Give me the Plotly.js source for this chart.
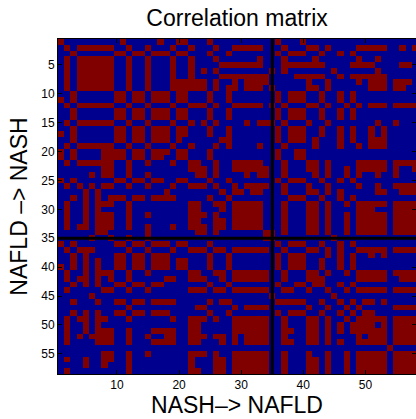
<!DOCTYPE html>
<html>
<head>
<meta charset="utf-8">
<script src="https://cdn.plot.ly/plotly-3.0.1.min.js"></script>
<style>html,body{margin:0;padding:0;background:#fff;}#chart{width:416px;height:419px;}</style>
</head>
<body>
<div id="chart"></div>
<script>
// Variable indices (rows and columns of the matrix)
const variables = [1,2,3,4,5,6,7,8,9,10,11,12,13,14,15,16,17,18,19,20,21,22,23,24,25,26,27,28,29,30,31,32,33,34,35,36,37,38,39,40,41,42,43,44,45,46,47,48,49,50,51,52,53,54,55,56,57,58];
const xTickVals = [10,20,30,40,50];
const yTickVals = [5,10,15,20,25,30,35,40,45,50,55];
const splitAt = 35;

// Upper triangle of the thresholded correlation matrix:
// for each row, the columns (>= row) drawn red (value 1); others are blue (0).
const redUpper = [
 [1,11,17,20,21,25,36,40],
 [2,4,5,6,7,8,9,12,15,19,22,26,29,30,31,32,33,37,41,42,44,49,50,51,52,53,56,58],
 [3,10,11,13,14,16,17,18,20,21,25,28,36,38,39,40,43,46,48],
 [4,5,6,7,8,9,12,15,19,22,26,33,37,42,49,52],
 [5,6,7,8,9,12,15,19,22,27,28,29,30,31,32,33,37,38,39,40,41,42,43,48,49,50,51,56,57],
 [6,7,8,9,12,15,19,22,24,26,35,37,45,52],
 [7,8,9,12,15,19,22,27,28,29,30,31,32,33,34,39,40,41,42,43,46,48,49,50,51,52,53],
 [8,9,12,15,19,20,21,22,23,24,26,29,31,32,33,34,41,44,49,51,52,53,55,56,57],
 [9,12,15,19,20,21,22,23,24,26,28,29,31,32,33,35,41,42,44,51,52,53,55,56],
 [10,11,13,14,16,17,18,20,21,25,28,36,38,39,40,43,46,48],
 [11,13,14,16,17,18,20,21,25,28,36,38,39,40,43,46,48],
 [12,15,19,22,23,24,26,29,30,31,32,33,35,37,41,42,44,47,49,51,52,53,55,56,57,58],
 [13,14,16,17,18,20,21,25,28,36,38,39,40,43,46,48],
 [14,16,17,18,20,21,25,28,36,38,39,40,43,46,48],
 [15,19,22,24,26,31,33,34,35,37,41,44,52,55],
 [16,17,18,20,21,25,28,36,38,39,40,43,46,48,51,53],
 [17,18,20,21,25,28,36,38,39,40,43,46,48,51,53],
 [18,20,27,28,36,38,39,40,42,46,48,51,52,53],
 [19,22,26,28,33,37,42,46,49,51,52,53],
 [20,21,25,36,39,40],
 [21,25,36,39,40],
 [22,23,26,29,30,31,32,33,37,41,42,44,49,50,51,52,53,55,56,57,58],
 [23,24,26,29,30,31,32,33,34,37,41,42,44,47,49,50,51,52,53,55,58],
 [24,26,31,33,34,37,42,44,47,49,52,55],
 [25,28,36,38,39,40,43,46,48],
 [26,29,31,32,33,34,37,41,44,49,52,55,56,57,58],
 [27,29,30,32,33,37,41,42,44,46,52,53,56,57,58],
 [28,38,39,40,43,46,48],
 [29,30,31,32,33,37,41,42,44,47,49,50,51,52,53,55,56,57,58],
 [30,31,32,33,37,41,42,44,49,50,51,55,56,57,58],
 [31,32,33,37,41,42,44,47,49,50,51,52,53,55,56,57,58],
 [32,33,37,41,42,44,47,49,50,51,52,53,55,56,57,58],
 [33,37,41,42,44,47,49,50,51,52,53,55,56,57,58],
 [34,35,37,41,42,44,47,49,50,51,52,53,55,56,57,58],
 [35,45],
 [36,38,39,40,43,46,48],
 [37,41,42,44,46,49,50,51,52,53,55,56,57,58],
 [38,39,40,44,46,48,51,53],
 [39,40,43,46,48],
 [40,43,46,48],
 [41,42,44,47,49,50,51,52,53,55,56,57,58],
 [42,43,49,50,51,52,53,56,57,58],
 [43,46,48],
 [44,47,49,50,51,52,53,55,56,57,58],
 [45],
 [46,48,50,51,53],
 [47,49,55,56,57,58],
 [48,50,51],
 [49,50,51,52,53,55,56,57,58],
 [50,51,53,55,56,57,58],
 [51,52,53,55,56,57,58],
 [52,53,55,56,57,58],
 [53,55,56,57,58],
 [54],
 [55,56,57,58],
 [56,57,58],
 [57,58],
 [58]
];

// Build the full symmetric matrix from the upper-triangle table
const z = variables.map(() => variables.map(() => 0));
redUpper.forEach((cols, i) => {
  cols.forEach(c => {
    const j = c - 1;
    z[i][j] = 1;
    z[j][i] = 1;
  });
});

const trace = {
  type: 'heatmap',
  x: variables,
  y: variables,
  z: z,
  zmin: 0, zmax: 1,
  colorscale: [[0, '#00008F'], [0.5, '#00008F'], [0.5, '#800000'], [1, '#800000']],
  showscale: false,
  hoverinfo: 'x+y+z',
  xgap: 0, ygap: 0
};

const fontFam = 'Liberation Sans, Arial, Helvetica, sans-serif';
const layout = {
  width: 416, height: 419,
  margin: {l: 58, r: 0, t: 39, b: 45, pad: 0},
  paper_bgcolor: '#ffffff',
  plot_bgcolor: '#ffffff',
  title: {text: 'Correlation matrix', font: {family: fontFam, size: 23, color: '#000'}, x: 0.57, xanchor: 'center', y: 0.958, yanchor: 'middle'},
  xaxis: {
    range: [0.5, 58.15],
    tickvals: xTickVals,
    ticktext: xTickVals.map(String),
    ticks: 'inside', ticklen: 4, tickcolor: '#000', tickwidth: 1,
    showline: true, linecolor: '#000', linewidth: 1, mirror: 'ticks',
    showgrid: false, zeroline: false,
    tickfont: {family: fontFam, size: 12, color: '#000'},
    title: {text: 'NASH–> NAFLD', font: {family: fontFam, size: 23, color: '#000'}, standoff: 5},
    automargin: false
  },
  yaxis: {
    range: [58.5, 0.5],
    tickvals: yTickVals,
    ticktext: yTickVals.map(String),
    ticks: 'inside', ticklen: 4, tickcolor: '#000', tickwidth: 1,
    showline: true, linecolor: '#000', linewidth: 1, mirror: 'ticks',
    showgrid: false, zeroline: false,
    tickfont: {family: fontFam, size: 12, color: '#000'},
    title: {text: 'NAFLD –> NASH', font: {family: fontFam, size: 23, color: '#000'}, standoff: 7},
    automargin: false
  },
  shapes: [
    {type: 'line', xref: 'x', yref: 'y', x0: splitAt, x1: splitAt, y0: 0.5, y1: 58.5, line: {color: '#000', width: 3}},
    {type: 'line', xref: 'x', yref: 'y', x0: 0.5, x1: 58.5, y0: splitAt, y1: splitAt, line: {color: '#000', width: 3}}
  ],
  showlegend: false
};

Plotly.newPlot('chart', [trace], layout, {displayModeBar: false, staticPlot: true});
</script>
</body>
</html>
